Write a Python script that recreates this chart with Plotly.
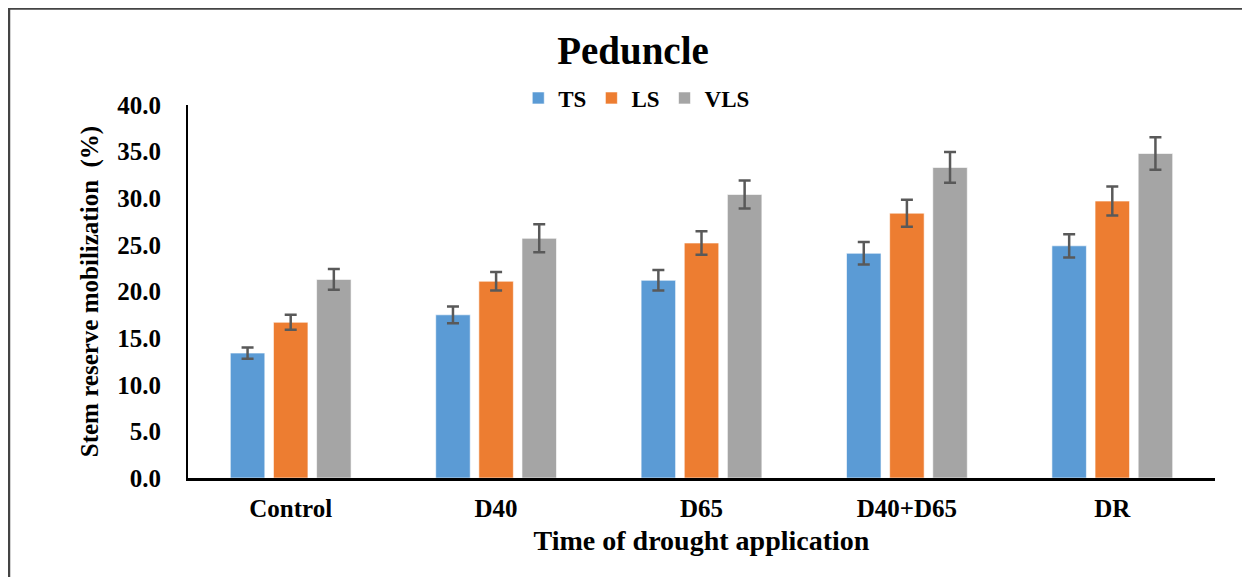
import plotly.graph_objects as go

categories = ["Control", "D40", "D65", "D40+D65", "DR"]
series_names = ["TS", "LS", "VLS"]
ts_values = [13.4, 17.5, 21.2, 24.1, 24.9]
ls_values = [16.7, 21.1, 25.2, 28.4, 29.7]
vls_values = [21.3, 25.7, 30.4, 33.3, 34.8]
ts_err = [0.6, 0.9, 1.1, 1.2, 1.25]
ls_err = [0.8, 1.0, 1.25, 1.45, 1.55]
vls_err = [1.1, 1.5, 1.5, 1.65, 1.75]
y_ticks = [0, 5, 10, 15, 20, 25, 30, 35, 40]
y_tick_labels = ["0.0", "5.0", "10.0", "15.0", "20.0", "25.0", "30.0", "35.0", "40.0"]

colors = ["#5B9BD5", "#ED7D31", "#A5A5A5"]
FONT = "Liberation Serif"

fig = go.Figure()
for name, vals, errs, col in zip(series_names, [ts_values, ls_values, vls_values],
                                 [ts_err, ls_err, vls_err], colors):
    fig.add_trace(go.Bar(
        x=categories, y=vals, name="<b>" + name + "</b>",
        marker=dict(color=col, line=dict(color="rgba(255,255,255,0.6)", width=1)),
        error_y=dict(type="data", array=errs, visible=True, color="#595959",
                     thickness=2.5, width=6),
    ))

fig.update_layout(
    width=1250, height=577,
    paper_bgcolor="white", plot_bgcolor="white",
    margin=dict(l=180, r=43, t=97, b=107, autoexpand=False),
    barmode="group", bargap=0.37, bargroupgap=0.2,
    font=dict(family=FONT, color="black"),
    title=dict(text="<b>Peduncle</b>", x=0.5, xanchor="center", xref="container",
               y=0.927, yanchor="middle", yref="container",
               font=dict(family=FONT, size=39, color="black")),
    legend=dict(orientation="h", x=0.503, xanchor="center", xref="container",
                y=0.844, yanchor="middle", yref="container",
                font=dict(family=FONT, size=23, color="black"),
                itemwidth=30, traceorder="normal", bgcolor="rgba(0,0,0,0)"),
    showlegend=True,
)

fig.update_xaxes(
    showline=True, linecolor="black", linewidth=2.5, showgrid=False,
    ticks="", tickfont=dict(family=FONT, size=25, color="black"),
    tickprefix="<b>", ticksuffix="</b>", ticklabelstandoff=6,
    automargin=False,
    title=dict(text="<b>Time of drought application</b>",
               font=dict(family=FONT, size=28, color="black"), standoff=10),
)
fig.update_yaxes(
    range=[0, 40], tickvals=y_ticks, ticktext=["<b>" + t + "</b>" for t in y_tick_labels],
    showline=True, linecolor="black", linewidth=2, showgrid=False, zeroline=False,
    ticks="", tickfont=dict(family=FONT, size=25, color="black"), ticklabelstandoff=20,
    automargin=False,
    title=dict(text="<b>Stem reserve mobilization  (%)</b>",
               font=dict(family=FONT, size=25, color="black"), standoff=12),
)

# outer frame of the figure
fig.add_shape(type="rect", xref="paper", yref="paper",
              x0=-0.1743, x1=1.06, y0=-0.35, y1=1.2587,
              line=dict(color="#444444", width=2.5), fillcolor="rgba(0,0,0,0)", layer="below")

fig.write_html("out.html")
